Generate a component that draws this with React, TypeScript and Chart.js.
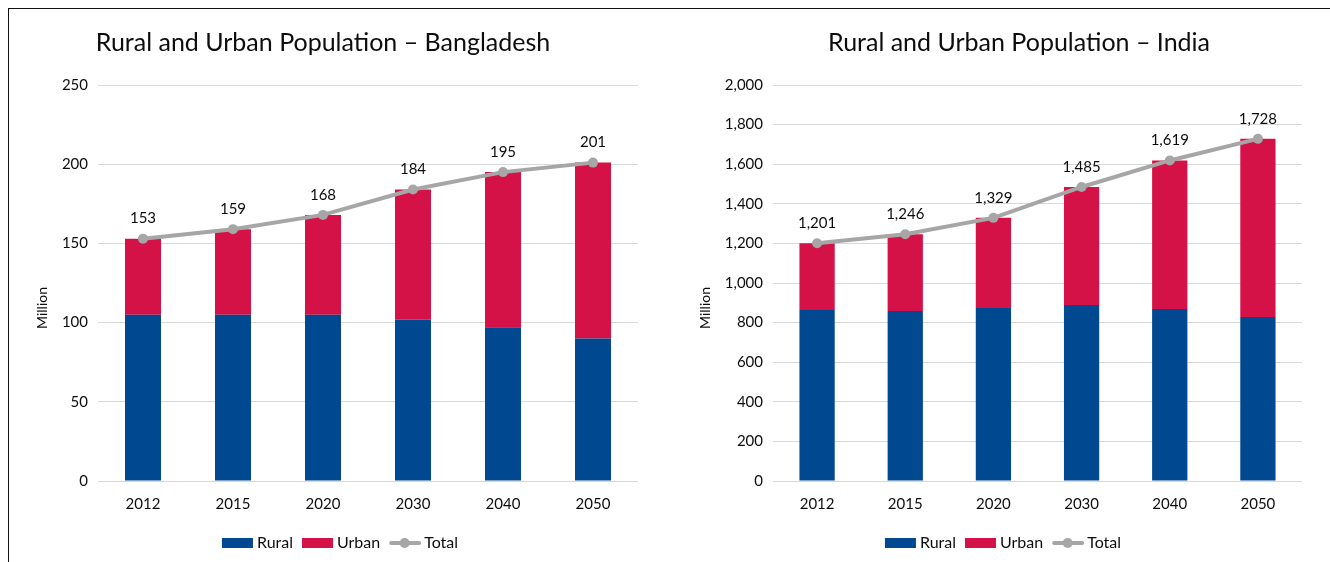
import React, { useEffect, useRef } from 'react';
import { Chart, registerables } from 'chart.js';

Chart.register(...registerables);

const FONT = 'Lato, "Open Sans", sans-serif';

const years = ['2012', '2015', '2020', '2030', '2040', '2050'];

const bdRural = [105, 105, 105, 102, 97, 90];
const bdUrban = [48, 54, 63, 82, 98, 111];
const bdTotal = [153, 159, 168, 184, 195, 201];
const bdAxis = { min: 0, max: 250, step: 50 };

const inRural = [864, 859, 874, 889, 869, 828];
const inUrban = [337, 387, 455, 596, 750, 900];
const inTotal = [1201, 1246, 1329, 1485, 1619, 1728];
const inAxis = { min: 0, max: 2000, step: 200 };

const RURAL = '#00488F';
const URBAN = '#D51247';
const TOTAL = '#A6A6A6';
const GRID = '#D9D9D9';
const TEXT = '#0d0d0d';

const fmt = (v: number) => v.toLocaleString('en-US');

const textPlugin = {
  id: 'customText',
  afterDatasetsDraw(chart: any) {
    const ctx = chart.ctx;
    const idx = chart.data.datasets.findIndex((d: any) => d.type === 'line');
    if (idx < 0) return;
    const meta = chart.getDatasetMeta(idx);
    const vals = chart.data.datasets[idx].data;
    ctx.save();
    ctx.font = `15px ${FONT}`;
    ctx.fillStyle = TEXT;
    ctx.textAlign = 'center';
    ctx.textBaseline = 'middle';
    meta.data.forEach((pt: any, i: number) => {
      ctx.fillText(fmt(vals[i]), pt.x, pt.y - 20);
    });
    ctx.restore();
  },
  afterDraw(chart: any, _args: any, opts: any) {
    const ctx = chart.ctx;
    ctx.save();
    ctx.fillStyle = TEXT;
    ctx.textAlign = 'center';
    ctx.textBaseline = 'middle';
    ctx.font = `25px ${FONT}`;
    ctx.fillText(opts.title, opts.titleX, opts.titleY);
    ctx.save();
    ctx.translate(opts.axisX, opts.axisY);
    ctx.rotate(-Math.PI / 2);
    ctx.font = `14px ${FONT}`;
    ctx.fillText(opts.axisTitle, 0, 0);
    ctx.restore();

    // legend
    ctx.font = `16px ${FONT}`;
    ctx.textAlign = 'left';
    const boxW = 31;
    const gapIn = 4;
    const gapOut = 9;
    const items = chart.data.datasets.map((d: any) => ({
      label: d.label,
      type: d.type,
      color: d.type === 'line' ? d.borderColor : d.backgroundColor,
      w: boxW + gapIn + ctx.measureText(d.label).width,
    }));
    const totalW =
      items.reduce((s: number, it: any) => s + it.w, 0) + gapOut * (items.length - 1);
    let x = chart.width / 2 - totalW / 2;
    const y = opts.legendY;
    items.forEach((it: any) => {
      if (it.type === 'line') {
        ctx.strokeStyle = it.color;
        ctx.lineWidth = 4;
        ctx.lineCap = 'round';
        ctx.beginPath();
        ctx.moveTo(x + 2, y);
        ctx.lineTo(x + boxW - 1, y);
        ctx.stroke();
        ctx.fillStyle = it.color;
        ctx.beginPath();
        ctx.arc(x + boxW / 2, y, 5, 0, Math.PI * 2);
        ctx.fill();
      } else {
        ctx.fillStyle = it.color;
        ctx.fillRect(x, y - 5, boxW, 10);
      }
      ctx.fillStyle = TEXT;
      ctx.fillText(it.label, x + boxW + gapIn, y);
      x += it.w + gapOut;
    });
    ctx.restore();
  },
};

type Props = {
  rural: number[];
  urban: number[];
  total: number[];
  axis: { min: number; max: number; step: number };
  title: string;
  width: number;
  height: number;
  yWidth: number;
  padRight: number;
  titleX: number;
  axisX: number;
};

function PopChart(p: Props) {
  const ref = useRef<HTMLCanvasElement>(null);
  useEffect(() => {
    const chart = new Chart(ref.current!, {
      type: 'bar',
      data: {
        labels: years,
        datasets: [
          {
            type: 'bar',
            label: 'Rural',
            data: p.rural,
            backgroundColor: RURAL,
            stack: 'pop',
            order: 1,
            barPercentage: 0.4,
            categoryPercentage: 1,
          },
          {
            type: 'bar',
            label: 'Urban',
            data: p.urban,
            backgroundColor: URBAN,
            stack: 'pop',
            order: 1,
            barPercentage: 0.4,
            categoryPercentage: 1,
          },
          {
            type: 'line',
            label: 'Total',
            data: p.total,
            borderColor: TOTAL,
            backgroundColor: TOTAL,
            borderWidth: 4,
            pointRadius: 5,
            pointBackgroundColor: TOTAL,
            pointBorderWidth: 0,
            stack: 'total',
            order: 0,
            tension: 0,
          },
        ] as any,
      },
      options: {
        responsive: false,
        animation: false,
        layout: { padding: { top: 75, right: p.padRight, left: 0, bottom: 37 } },
        scales: {
          x: {
            stacked: true,
            grid: { display: false },
            border: { display: false },
            ticks: { color: TEXT, font: { family: FONT, size: 15 }, padding: 6 },
            afterFit: (s: any) => {
              s.height = 44;
            },
          },
          y: {
            stacked: true,
            min: p.axis.min,
            max: p.axis.max,
            grid: { color: GRID, lineWidth: 1, drawTicks: false },
            border: { display: false },
            ticks: {
              stepSize: p.axis.step,
              color: TEXT,
              font: { family: FONT, size: 15 },
              padding: 10,
              callback: (v: any) => fmt(Number(v)),
            },
            afterFit: (s: any) => {
              s.width = p.yWidth;
            },
          },
        },
        plugins: {
          legend: { display: false },
          title: { display: false },
          tooltip: { enabled: false },
          customText: {
            title: p.title,
            titleX: p.titleX,
            titleY: 33,
            axisTitle: 'Million',
            axisX: p.axisX,
            axisY: 298,
            legendY: 533,
          },
        } as any,
      },
      plugins: [textPlugin as any],
    });
    return () => chart.destroy();
  }, []);
  return <canvas ref={ref} width={p.width} height={p.height} style={{ display: 'block' }} />;
}

export default function App() {
  return (
    <div style={{ position: 'relative', height: 552 }}>
      <div
        style={{
          position: 'fixed',
          top: 8,
          left: 8,
          right: 0,
          bottom: 0,
          borderTop: '1px solid #111',
          borderLeft: '1px solid #111',
          pointerEvents: 'none',
        }}
      />
      <div style={{ position: 'absolute', left: 2, top: 2 }}>
        <PopChart
          rural={bdRural}
          urban={bdUrban}
          total={bdTotal}
          axis={bdAxis}
          title="Rural and Urban Population – Bangladesh"
          width={660}
          height={552}
          yWidth={88}
          padRight={32}
          titleX={313}
          axisX={32}
        />
      </div>
      <div style={{ position: 'absolute', left: 672, top: 2 }}>
        <PopChart
          rural={inRural}
          urban={inUrban}
          total={inTotal}
          axis={inAxis}
          title="Rural and Urban Population – India"
          width={646}
          height={552}
          yWidth={93}
          padRight={24}
          titleX={339}
          axisX={25}
        />
      </div>
    </div>
  );
}
